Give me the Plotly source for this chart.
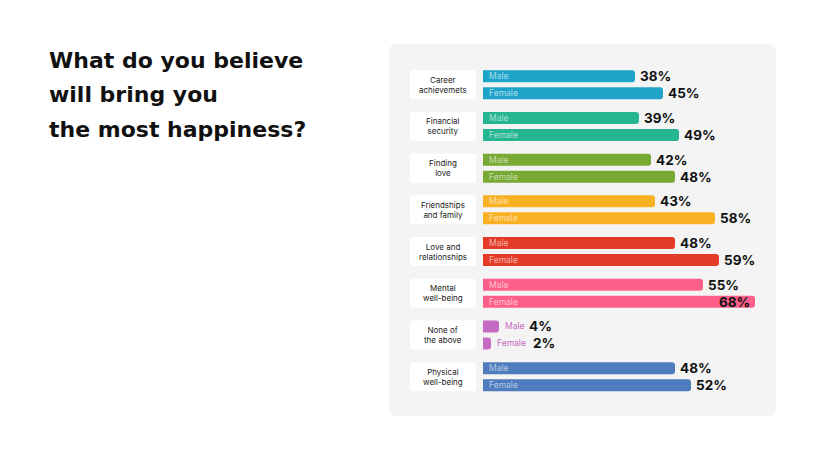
import plotly.graph_objects as go

# ---------------- data ----------------
categories = ["Career achievemets", "Financial security", "Finding love", "Friendships and family",
              "Love and relationships", "Mental well-being", "None of the above", "Physical well-being"]
label_lines = [["Career", "achievemets"], ["Financial", "security"], ["Finding", "love"],
               ["Friendships", "and family"], ["Love and", "relationships"], ["Mental", "well-being"],
               ["None of", "the above"], ["Physical", "well-being"]]
male = [38, 39, 42, 43, 48, 55, 4, 48]
female = [45, 49, 48, 58, 59, 68, 2, 52]
series_names = ["Male", "Female"]
colors = ["#1fa4c9", "#25b691", "#77a933", "#f9b124", "#e33b27", "#fe5f8a", "#c56bc1", "#4e7cbd"]
title_lines = ["What do you believe", "will bring you", "the most happiness?"]

# ---------------- layout constants ----------------
W, H = 820, 462
FONT = "Inter"
TITLE_FONT = "DejaVu Sans"
X0 = 483          # pixel of 0%
PXPCT = 4.0       # pixels per percent
ROW = 41.7        # pixels between categories
Y0 = 84.75        # pixel centre of first category
OFF = 8.5 / ROW
BW = 12 / ROW
PANEL = (389, 44, 776, 416)  # x0, y0, x1, y1 pixels
BOX_X = (410, 476)
BOX_HALF = 14.5 / ROW

n = len(categories)
idx = list(range(n))

fig = go.Figure()
for s, vals in enumerate([male, female]):
    sign = -1 if s == 0 else 1
    fig.add_trace(go.Bar(
        x=vals, y=[i + sign * OFF for i in idx], orientation="h", width=BW,
        marker=dict(color=colors, line=dict(width=0)), name=series_names[s],
        hovertemplate="%{x}%<extra></extra>"))


def rrect(x0, y0, x1, y1, rx, ry):
    return (f"M {x0+rx},{y0} L {x1-rx},{y0} Q {x1},{y0} {x1},{y0+ry} "
            f"L {x1},{y1-ry} Q {x1},{y1} {x1-rx},{y1} L {x0+rx},{y1} Q {x0},{y1} {x0},{y1-ry} "
            f"L {x0},{y0+ry} Q {x0},{y0} {x0+rx},{y0} Z")


shapes = []
# background panel (paper coordinates)
px0, py0, px1, py1 = PANEL
shapes.append(dict(type="path", xref="paper", yref="paper", layer="below",
                   path=rrect(px0 / W, 1 - py1 / H, px1 / W, 1 - py0 / H, 8 / W, 8 / H),
                   fillcolor="#f4f4f4", line=dict(width=0)))
# label boxes
for i in idx:
    shapes.append(dict(type="path", xref="paper", yref="y", layer="below",
                       path=rrect(BOX_X[0] / W, i - BOX_HALF, BOX_X[1] / W, i + BOX_HALF, 3 / W, 3 / ROW),
                       fillcolor="#ffffff", line=dict(width=0)))

annotations = []
# title
for k, t in enumerate(title_lines):
    annotations.append(dict(xref="paper", yref="paper", x=47 / W, y=1 - (60 + 34.5 * k) / H,
                            xanchor="left", yanchor="middle", text=t, showarrow=False,
                            font=dict(family=TITLE_FONT, size=22, color="#111111", weight=700)))
# category labels
for i in idx:
    annotations.append(dict(xref="paper", yref="y", x=(BOX_X[0] + BOX_X[1]) / 2 / W, y=i,
                            xanchor="center", yanchor="middle", text="<br>".join(label_lines[i]),
                            showarrow=False, align="center",
                            font=dict(family=FONT, size=8, color="#222222")))

NAME_W = {"Male": 20, "Female": 32}
for s, vals in enumerate([male, female]):
    sign = -1 if s == 0 else 1
    name = series_names[s]
    for i in idx:
        v = vals[i]
        y = i + sign * OFF
        end_px = X0 + v * PXPCT
        if v >= 10:
            annotations.append(dict(x=0, y=y, xref="x", yref="y", xanchor="left", yanchor="middle",
                                    xshift=4, text=name, showarrow=False,
                                    font=dict(family=FONT, size=8.5, color="rgba(255,255,255,0.6)")))
            vshift = 3
        else:
            annotations.append(dict(x=v, y=y, xref="x", yref="y", xanchor="left", yanchor="middle",
                                    xshift=4, text=name, showarrow=False,
                                    font=dict(family=FONT, size=8.5, color=colors[i])))
            vshift = 4 + NAME_W[name] + 4
        if end_px + vshift + 30 > PANEL[2]:
            annotations.append(dict(x=v, y=y, xref="x", yref="y", xanchor="right", yanchor="middle",
                                    xshift=-3, text=f"{v}%", showarrow=False,
                                    font=dict(family=FONT, size=13.5, color="#111111", weight=700)))
        else:
            annotations.append(dict(x=v, y=y, xref="x", yref="y", xanchor="left", yanchor="middle",
                                    xshift=vshift, text=f"{v}%", showarrow=False,
                                    font=dict(family=FONT, size=13.5, color="#111111", weight=700)))

fig.update_layout(
    width=W, height=H, margin=dict(l=0, r=0, t=0, b=0),
    paper_bgcolor="#ffffff", plot_bgcolor="rgba(0,0,0,0)",
    showlegend=False, barcornerradius=3,
    xaxis=dict(domain=[X0 / W, 1], range=[0, (W - X0) / PXPCT], visible=False, fixedrange=True),
    yaxis=dict(domain=[0, 1], range=[(H - Y0) / ROW, -Y0 / ROW], visible=False, fixedrange=True),
    shapes=shapes, annotations=annotations,
    font=dict(family=FONT),
)

fig.write_html("out.html", config={"displayModeBar": False},
               post_script="document.body.style.margin='0px';document.body.style.overflow='hidden';")
